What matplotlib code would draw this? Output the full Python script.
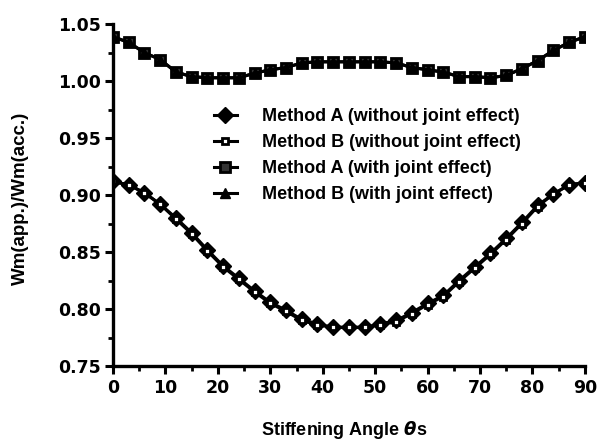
import numpy as np
import matplotlib
matplotlib.use('Agg')
import matplotlib.pyplot as plt
from matplotlib.ticker import MultipleLocator

# ── Data ────────────────────────────────────────────────────────────────────
angle = [0, 3, 6, 9, 12, 15, 18, 21, 24, 27, 30, 33, 36, 39, 42, 45,
         48, 51, 54, 57, 60, 63, 66, 69, 72, 75, 78, 81, 84, 87, 90]

a_without = [0.912, 0.909, 0.902, 0.892, 0.880, 0.867, 0.852, 0.838, 0.827, 0.816,
             0.806, 0.799, 0.791, 0.787, 0.784, 0.784, 0.784, 0.787, 0.790, 0.797,
             0.805, 0.812, 0.825, 0.837, 0.849, 0.862, 0.876, 0.891, 0.901, 0.909, 0.911]
b_without = [0.912, 0.909, 0.902, 0.892, 0.879, 0.866, 0.851, 0.837, 0.826, 0.815,
             0.805, 0.798, 0.790, 0.786, 0.784, 0.784, 0.784, 0.786, 0.789, 0.796,
             0.804, 0.811, 0.824, 0.836, 0.848, 0.861, 0.875, 0.890, 0.901, 0.909, 0.911]
a_with = [1.039, 1.034, 1.025, 1.019, 1.008, 1.004, 1.003, 1.003, 1.003, 1.007,
          1.010, 1.012, 1.016, 1.017, 1.017, 1.017, 1.017, 1.017, 1.016, 1.012,
          1.010, 1.008, 1.004, 1.004, 1.003, 1.005, 1.011, 1.018, 1.027, 1.034, 1.039]
b_with = [1.039, 1.034, 1.025, 1.019, 1.008, 1.004, 1.003, 1.003, 1.003, 1.007,
          1.010, 1.012, 1.016, 1.017, 1.017, 1.017, 1.017, 1.017, 1.016, 1.012,
          1.010, 1.008, 1.004, 1.004, 1.003, 1.005, 1.011, 1.018, 1.027, 1.034, 1.039]

labels = ['Method A (without joint effect)', 'Method B (without joint effect)',
          'Method A (with joint effect)', 'Method B (with joint effect)']

# ── Style ───────────────────────────────────────────────────────────────────
plt.rcParams['font.family'] = ['Liberation Sans', 'DejaVu Sans']
plt.rcParams['font.weight'] = 'bold'

fig = plt.figure(figsize=(5.98, 4.40), dpi=100)
ax = fig.add_axes([0.189, 0.168, 0.789, 0.777])

# lower curves: open squares drawn over the diamonds, so the line looks black
ax.plot(angle, a_without, '-', color='black', lw=2.2, marker='D', ms=8,
        mfc='black', mec='black', label=labels[0])
ax.plot(angle, b_without, '-', color='black', lw=2.2, marker='s', ms=5,
        mfc='white', mec='black', mew=2.0, label=labels[1])
# upper curves
ax.plot(angle, a_with, '-', color='black', lw=2.2, marker='s', ms=7.5,
        mfc='#333333', mec='black', mew=2.0, label=labels[2])
ax.plot(angle, b_with, '-', color='black', lw=2.2, marker='^', ms=7,
        mfc='black', mec='black', label=labels[3])

ax.set_xlim(0, 90)
ax.set_ylim(0.75, 1.05)
ax.xaxis.set_major_locator(MultipleLocator(10))
ax.xaxis.set_minor_locator(MultipleLocator(5))
ax.yaxis.set_major_locator(MultipleLocator(0.05))
ax.yaxis.set_minor_locator(MultipleLocator(0.025))
ax.yaxis.set_major_formatter(plt.FormatStrFormatter('%.2f'))

for side in ['top', 'right']:
    ax.spines[side].set_visible(False)
for side in ['left', 'bottom']:
    ax.spines[side].set_linewidth(2.4)

ax.tick_params(which='major', direction='out', length=6, width=2.2, pad=3)
ax.tick_params(which='minor', direction='out', length=3.5, width=2)
for lab in ax.get_xticklabels() + ax.get_yticklabels():
    lab.set_fontfamily('DejaVu Sans')
    lab.set_fontweight('bold')
    lab.set_fontsize(12.5)

ax.set_ylabel('Wm(app.)/Wm(acc.)', fontsize=13.5, fontweight='bold', va='center')
ax.yaxis.set_label_coords(-0.197, 0.49)
ax.set_xlabel(r'Stiffening Angle $\theta$s', fontsize=13, fontweight='bold',
              va='center')
ax.xaxis.set_label_coords(0.49, -0.187)

ax.legend(loc='upper left', bbox_to_anchor=(0.342, 0.775),
          bbox_transform=fig.transFigure, frameon=False,
          prop={'size': 13, 'weight': 'bold'}, handlelength=1.3,
          handletextpad=1.4, labelspacing=0.5, borderpad=0)

fig.savefig('out.png', dpi=100)
